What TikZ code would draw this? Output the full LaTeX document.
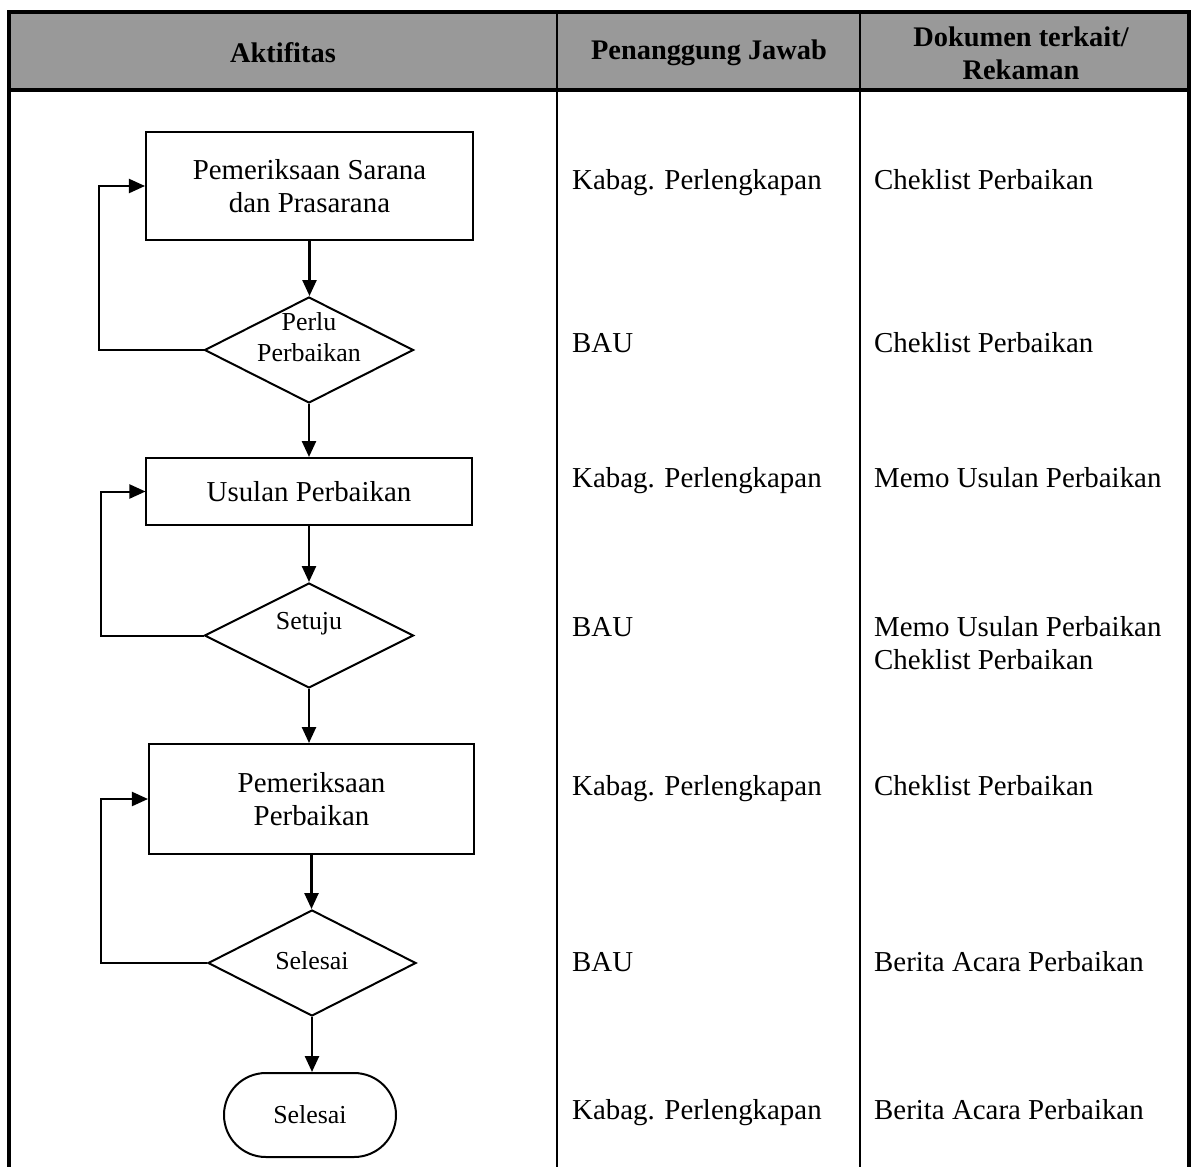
\documentclass[tikz,border=0pt]{standalone}
\usepackage{fontspec}
\setmainfont{Liberation Serif}
\usetikzlibrary{arrows.meta,shapes.geometric}
\definecolor{hdrgray}{RGB}{153,153,153}
\newcommand\fsz[2]{\fontsize{#1}{#2}\selectfont}
\begin{document}
\begin{tikzpicture}[x=1bp,y=-1bp,
  proc/.style={draw,line width=2bp,rectangle,inner sep=0,font=\fsz{29}{33},align=center},
  dec/.style={draw,line width=2bp,diamond,inner sep=0},
  dectext/.style={inner sep=0,font=\fsz{26}{31},align=center},
  term/.style={draw,line width=2bp,rectangle,rounded corners=41.9bp,inner sep=0,font=\fsz{26}{31},minimum width=172bp,minimum height=84bp},
  cell/.style={anchor=west,inner sep=0,font=\fsz{29}{33},align=left,text height=0.7em,text depth=0.25em},
  hdr/.style={inner sep=0,font=\fsz{28.5}{33}\bfseries,align=center},
  arr/.style={line width=2.5bp,-{Triangle[length=16bp,width=14bp]}},
  looparr/.style={line width=2bp,-{Triangle[length=16bp,width=14bp]}},
  border/.style={line width=4bp},
  divider/.style={line width=2.3bp}
]
\useasboundingbox (0,0) rectangle (1191,1167);
% header
\fill[hdrgray] (9,12) rectangle (1189,90);
\draw[border] (9,1170) -- (9,12) -- (1189,12) -- (1189,1170);
\draw[border] (9,90) -- (1189,90);
\draw[divider] (557,12) -- (557,1170);
\draw[divider] (860,12) -- (860,1170);
\node[hdr] (h1) at (283,53) {Aktifitas};
\node[hdr] (h2) at (709,53) {Penanggung Jawab};
\node[hdr] (h3) at (1021,53) {Dokumen terkait/\\Rekaman};

% flowchart
\node[proc,minimum width=327bp,minimum height=108bp] (b1) at (309.5,186) {Pemeriksaan Sarana\\dan Prasarana};
\node[dec,minimum width=209bp,minimum height=106bp] (d1) at (309,350) {};
\node[dectext] (t1) at (309,337) {Perlu\\Perbaikan};
\node[proc,minimum width=325bp,minimum height=67bp] (b2) at (309,491.5) {Usulan Perbaikan};
\node[dec,minimum width=209bp,minimum height=105bp] (d2) at (309,635.5) {};
\node[dectext] (t2) at (309,624) {Setuju};
\node[proc,minimum width=325bp,minimum height=110bp] (b3) at (311.5,799) {Pemeriksaan\\Perbaikan};
\node[dec,minimum width=208bp,minimum height=106bp] (d3) at (312,963) {};
\node[dectext] (t3) at (312,961) {Selesai};
\node[term] (e) at (310,1115) {Selesai};

\coordinate (L1) at (99,0);
\coordinate (L2) at (101,0);
\coordinate (L3) at (101,0);

\draw[arr] (b1.south) -- (b1.south |- d1.north);
\draw[arr] (d1.south) -- (d1.south |- b2.north);
\draw[arr] (b2.south) -- (b2.south |- d2.north);
\draw[arr] (d2.south) -- (d2.south |- b3.north);
\draw[arr] (b3.south) -- (b3.south |- d3.north);
\draw[arr] (d3.south) -- (d3.south |- e.north);

\draw[looparr] (d1.west) -- (d1.west -| L1) |- (b1.west);
\draw[looparr] (d2.west) -- (d2.west -| L2) |- (b2.west);
\draw[looparr] (d3.west) -- (d3.west -| L3) |- (b3.west);

% columns
\node[cell] (p1) at (572,187) {Kabag. Perlengkapan};
\node[cell] (p2) at (572,350) {BAU};
\node[cell] (p3) at (572,485) {Kabag. Perlengkapan};
\node[cell] (p4) at (572,634) {BAU};
\node[cell] (p5) at (572,793) {Kabag. Perlengkapan};
\node[cell] (p6) at (572,969) {BAU};
\node[cell] (p7) at (572,1117) {Kabag. Perlengkapan};

\node[cell] (r1) at (874,187) {Cheklist Perbaikan};
\node[cell] (r2) at (874,350) {Cheklist Perbaikan};
\node[cell] (r3) at (874,485) {Memo Usulan Perbaikan};
\node[cell] (r4) at (874,634) {Memo Usulan Perbaikan};
\node[cell] (r4b) at (874,667) {Cheklist Perbaikan};
\node[cell] (r5) at (874,793) {Cheklist Perbaikan};
\node[cell] (r6) at (874,969) {Berita Acara Perbaikan};
\node[cell] (r7) at (874,1117) {Berita Acara Perbaikan};
\end{tikzpicture}
\end{document}
